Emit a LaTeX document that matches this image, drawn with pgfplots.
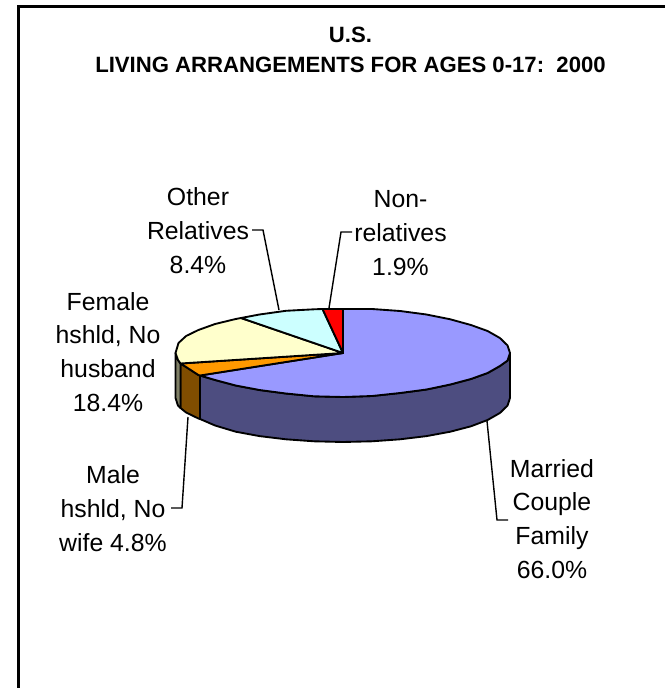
\documentclass[border=0pt]{standalone}
\usepackage{fontspec}
\setmainfont{Liberation Sans}
\usepackage{pgfplots}
\pgfplotsset{compat=1.18}
\definecolor{cMar}{HTML}{9999FF}\definecolor{cMarD}{HTML}{4D4D80}
\definecolor{cMal}{HTML}{FF9900}\definecolor{cMalD}{HTML}{804D00}
\definecolor{cFem}{HTML}{FFFFCC}\definecolor{cFemD}{HTML}{808066}
\definecolor{cOth}{HTML}{CCFFFF}\definecolor{cNon}{HTML}{FF0000}
\tikzset{
  pie/.style={draw=black,line width=1.4pt,line join=round,mark=none},
  lead/.style={draw=black,line width=1.05pt,mark=none},
  lab/.style={anchor=base,align=center,font=\fontsize{18.6}{25.2}\selectfont}}
\begin{document}
\begin{tikzpicture}
\begin{axis}[scale only axis,width=498.75pt,height=516pt,
  xmin=0,xmax=665,ymin=0,ymax=688,y dir=reverse,hide axis]
\path (axis cs:0,0) rectangle (axis cs:665,688);
% walls
\addplot[pie,fill=cMarD] coordinates {(510,353)(507.5,360.6)(499.9,366)(487.6,373)(470.9,379)(450.3,384.5)(426.5,389.5)(400.1,393)(372,396)(343,397)(314,396.3)(285.9,393.5)(259.5,390)(235.7,385.5)(215.1,380)(200,375.5)(200,419)(215.1,425.5)(235.7,431.7)(259.5,436.1)(285.9,439.3)(314,441.3)(343,442)(372,441.3)(400.1,439.3)(426.5,436.1)(450.3,431.7)(470.9,426.3)(487.6,420)(499.9,413)(507.5,405.6)(510,398)} --cycle;
\addplot[pie,fill=cMalD] coordinates {(200,375.5)(198.4,375)(186.1,367)(180.5,363.5)(180.5,408)(186.1,412.5)(198.4,418.5)(200,419)} --cycle;
\addplot[pie,fill=cFemD] coordinates {(180.5,363.5)(178,360)(175.5,353)(175.5,398)(178,405.6)(180.5,408)} --cycle;
% top faces
\addplot[pie,fill=cMar] coordinates {(343,353)(343,309)(372,309)(400.1,311)(426.5,314.5)(450.3,319.3)(470.9,325)(487.6,331)(499.9,338)(507.5,345.4)(510,353)(507.5,360.6)(499.9,366)(487.6,373)(470.9,379)(450.3,384.5)(426.5,389.5)(400.1,393)(372,396)(343,397)(314,396.3)(285.9,393.5)(259.5,390)(235.7,385.5)(215.1,380)(200,375.5)} --cycle;
\addplot[pie,fill=cMal] coordinates {(343,353)(200,375.5)(198.4,375)(186.1,367)(180.5,363.5)} --cycle;
\addplot[pie,fill=cFem] coordinates {(343,353)(180.5,363.5)(178,360)(175.5,353)(178.5,343)(186.1,336)(198.4,330)(215.1,324)(235.7,319)(241,318)} --cycle;
\addplot[pie,fill=cOth] coordinates {(343,353)(241,318)(259.5,314.5)(285.9,310.8)(314,309.3)(322.5,309)} --cycle;
\addplot[pie,fill=cNon] coordinates {(343,353)(322.5,309)(343,309)} --cycle;
% leader lines
\addplot[lead] coordinates {(252,230)(263,230)(279,310)};
\addplot[lead] coordinates {(352,232)(341,232)(329,308)};
\addplot[lead] coordinates {(188,417)(182,508)(171,508)};
\addplot[lead] coordinates {(487,421)(497,520)(508,520)};
% chart area frame (open on the cropped sides)
\addplot[draw=black,line width=1.9pt,mark=none] coordinates {(18.7,688)(18.7,6.3)(665,6.3)};
% text
\node[anchor=base,font=\bfseries\fontsize{16.6}{23.2}\selectfont,align=center] at (axis cs:350.5,73) {U.S.\\LIVING ARRANGEMENTS FOR AGES 0-17:\ \ 2000};
\node[lab] at (axis cs:198,273) {Other\\Relatives\\8.4\%};
\node[lab] at (axis cs:400.5,275) {Non-\\relatives\\1.9\%};
\node[lab] at (axis cs:108,411) {Female\\hshld, No\\husband\\18.4\%};
\node[lab] at (axis cs:113,551) {Male\\hshld, No\\wife 4.8\%};
\node[lab] at (axis cs:552,578) {Married\\Couple\\Family\\66.0\%};
\end{axis}
\end{tikzpicture}
\end{document}
